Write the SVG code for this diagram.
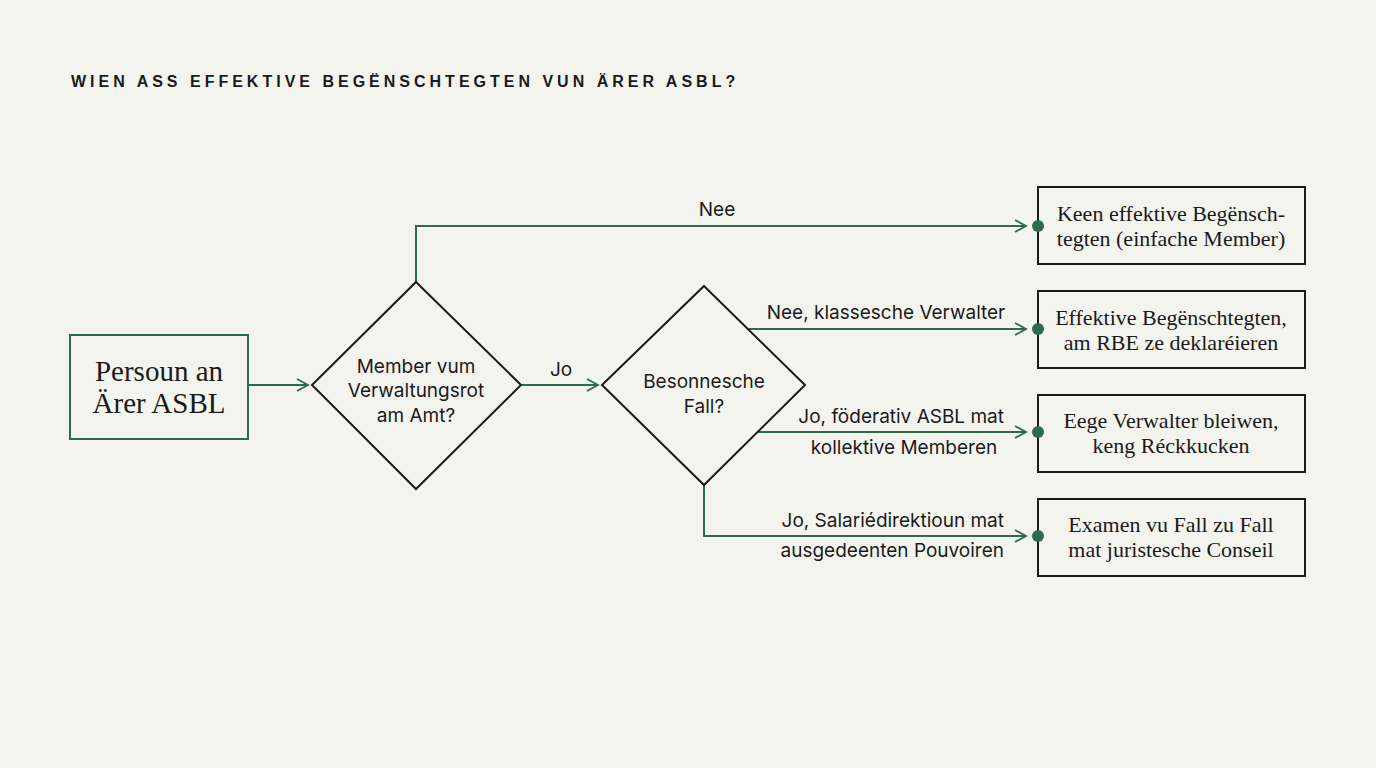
<svg xmlns="http://www.w3.org/2000/svg" width="1376" height="768" viewBox="0 0 1376 768">
<defs>
<style>
.bg{fill:#f4f4ef}
.title{font-family:"Liberation Sans",Arial,sans-serif;font-size:16px;font-weight:bold;letter-spacing:4px;fill:#1a1a1a}
.box{fill:none;stroke:#1a1a1a;stroke-width:2}
.start{fill:none;stroke:#2e6b4a;stroke-width:2}
.dia{fill:none;stroke:#1a1a1a;stroke-width:2}
.serif{font-family:"Liberation Serif","Times New Roman",serif;fill:#1a1a1a;text-anchor:middle}
.sans{font-family:Inter,"Liberation Sans",Arial,sans-serif;fill:#1a1a1a}
.conn{fill:none;stroke:#2e6b4a;stroke-width:2}
.dot{fill:#2e6b4a}
</style>
<marker id="arr" markerWidth="14" markerHeight="14" refX="12" refY="7" orient="auto" markerUnits="userSpaceOnUse">
<path d="M1,1 L12,7 L1,13" fill="none" stroke="#2e6b4a" stroke-width="1.8"/>
</marker>
</defs>
<rect class="bg" x="0" y="0" width="1376" height="768"/>
<text class="title" x="71" y="87">WIEN ASS EFFEKTIVE BEGËNSCHTEGTEN VUN ÄRER ASBL?</text>

<g id="connectors">
<path class="conn" d="M248,385 H308" marker-end="url(#arr)"/>
<path class="conn" d="M521,385 H598" marker-end="url(#arr)"/>
<path class="conn" d="M416,282 V226 H1026" marker-end="url(#arr)"/>
<path class="conn" d="M748,329 H1026" marker-end="url(#arr)"/>
<path class="conn" d="M757,432 H1026" marker-end="url(#arr)"/>
<path class="conn" d="M704,485 V536 H1026" marker-end="url(#arr)"/>
<text class="sans" x="717" y="216" font-size="19" text-anchor="middle">Nee</text>
<text class="sans" x="561" y="376" font-size="19" text-anchor="middle">Jo</text>
<text class="sans" x="886" y="319" font-size="19" text-anchor="middle">Nee, klassesche Verwalter</text>
<text class="sans" x="1004" y="423" font-size="19" text-anchor="end">Jo, föderativ ASBL mat</text>
<text class="sans" x="904" y="454" font-size="19" text-anchor="middle">kollektive Memberen</text>
<text class="sans" x="1004" y="527" font-size="19" text-anchor="end">Jo, Salariédirektioun mat</text>
<text class="sans" x="1004" y="557" font-size="19" text-anchor="end">ausgedeenten Pouvoiren</text>
</g>

<g id="start">
<rect class="start" x="70" y="335" width="178" height="104"/>
<text class="serif" x="159" y="381" font-size="29">Persoun an</text>
<text class="serif" x="159" y="413" font-size="29">Ärer ASBL</text>
</g>

<g id="decision1">
<polygon class="dia" points="416,282 521,385 416,489 312,385"/>
<text class="sans" x="416" y="373" font-size="19" text-anchor="middle">Member vum</text>
<text class="sans" x="416" y="397" font-size="19" text-anchor="middle">Verwaltungsrot</text>
<text class="sans" x="416" y="422" font-size="19" text-anchor="middle">am Amt?</text>
</g>

<g id="decision2">
<polygon class="dia" points="704,286 805,385 704,485 602,385"/>
<text class="sans" x="704" y="388" font-size="19" text-anchor="middle">Besonnesche</text>
<text class="sans" x="704" y="413" font-size="19" text-anchor="middle">Fall?</text>
</g>

<g id="out1">
<rect class="box" x="1038" y="187" width="267" height="77"/>
<circle class="dot" cx="1038" cy="226" r="6"/>
<text class="serif" x="1171" y="221" font-size="22">Keen effektive Begënsch-</text>
<text class="serif" x="1171" y="246" font-size="22">tegten (einfache Member)</text>
</g>

<g id="out2">
<rect class="box" x="1038" y="291" width="267" height="77"/>
<circle class="dot" cx="1038" cy="329" r="6"/>
<text class="serif" x="1171" y="325" font-size="22">Effektive Begënschtegten,</text>
<text class="serif" x="1171" y="350" font-size="22">am RBE ze deklaréieren</text>
</g>

<g id="out3">
<rect class="box" x="1038" y="395" width="267" height="77"/>
<circle class="dot" cx="1038" cy="432" r="6"/>
<text class="serif" x="1171" y="428" font-size="22">Eege Verwalter bleiwen,</text>
<text class="serif" x="1171" y="453" font-size="22">keng Réckkucken</text>
</g>

<g id="out4">
<rect class="box" x="1038" y="499" width="267" height="77"/>
<circle class="dot" cx="1038" cy="536" r="6"/>
<text class="serif" x="1171" y="532" font-size="22">Examen vu Fall zu Fall</text>
<text class="serif" x="1171" y="557" font-size="22">mat juristesche Conseil</text>
</g>
</svg>
